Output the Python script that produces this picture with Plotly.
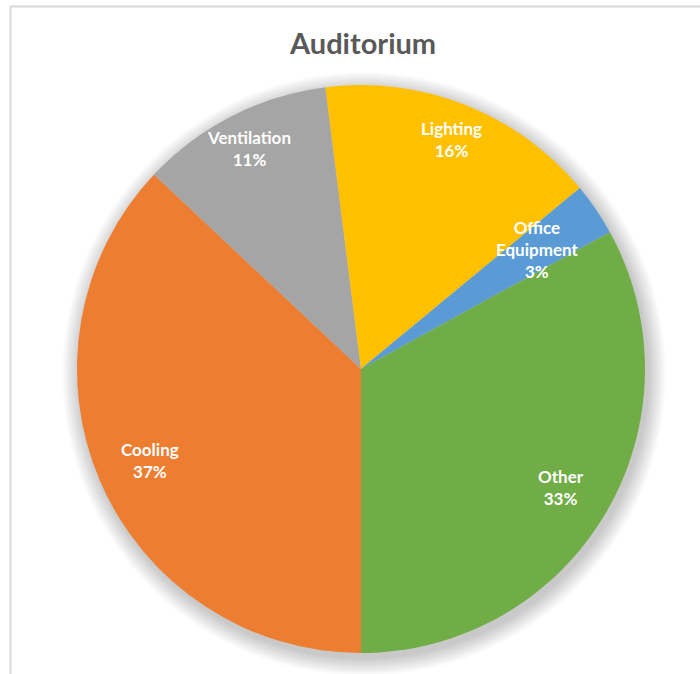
import math
import plotly.graph_objects as go

# Energy use breakdown for the auditorium (percent of total)
categories = ["Cooling", "Ventilation", "Lighting", "Office Equipment", "Other"]
shares = [37, 11, 16, 3, 33]
colors = ["#ED7D31", "#A5A5A5", "#FFC000", "#5B9BD5", "#70AD47"]
# label text shown inside each slice
label_names = ["Cooling", "Ventilation", "Lighting", "Office<br>Equipment", "Other"]
# radial placement of each label, as a fraction of the pie radius
label_radius = [0.81, 0.87, 0.87, 0.75, 0.82]

W, H = 700, 674
CX, CY, R = 361, 369, 284      # pie centre and radius in pixels
START = 180                     # first slice starts at 6 o'clock, going clockwise

fig = go.Figure()

fig.add_trace(go.Pie(
    labels=categories,
    values=shares,
    sort=False,
    direction="clockwise",
    rotation=START,
    marker=dict(colors=colors, line=dict(width=0)),
    textinfo="none",
    hovertemplate="%{label}: %{percent}<extra></extra>",
    showlegend=False,
    domain=dict(x=[(CX - R) / W, (CX + R) / W], y=[1 - (CY + R) / H, 1 - (CY - R) / H]),
))

def px(x):
    return x / W

def py(y):
    return 1 - y / H

shapes = []
# soft drop shadow under the pie
for k in range(18, 0, -1):
    r = R + k
    shapes.append(dict(
        type="circle", xref="paper", yref="paper", layer="below",
        x0=px(CX + 3 - r), x1=px(CX + 3 + r), y0=py(CY + 5 + r), y1=py(CY + 5 - r),
        fillcolor="rgba(0,0,0,0.010)", line=dict(width=0),
    ))
# chart frame
shapes.append(dict(
    type="rect", xref="paper", yref="paper", layer="below",
    x0=px(10.5), x1=px(W + 10), y0=py(H + 10), y1=py(6.5),
    line=dict(color="#D9D9D9", width=2), fillcolor="rgba(0,0,0,0)",
))

annotations = []
total = sum(shares)
acc = 0
for name, val, text, frac in zip(categories, shares, label_names, label_radius):
    mid = START + (acc + val / 2) / total * 360
    acc += val
    a = math.radians(mid)
    lx = CX + frac * R * math.sin(a)
    ly = CY - frac * R * math.cos(a)
    annotations.append(dict(
        x=px(lx), y=py(ly), xref="paper", yref="paper",
        text=f"<b>{text}<br>{round(val / total * 100)}%</b>", showarrow=False,
        font=dict(family="Lato, sans-serif", size=17, color="white"),
        xanchor="center", yanchor="middle", align="center",
    ))

annotations.append(dict(
    x=px(362), y=py(42), xref="paper", yref="paper",
    text="<b>Auditorium</b>", showarrow=False,
    font=dict(family="Lato, sans-serif", size=29, color="#595959"),
    xanchor="center", yanchor="middle",
))

fig.update_layout(
    width=W, height=H,
    margin=dict(l=0, r=0, t=0, b=0),
    paper_bgcolor="white",
    plot_bgcolor="white",
    shapes=shapes,
    annotations=annotations,
)

fig.write_html("out.html")
